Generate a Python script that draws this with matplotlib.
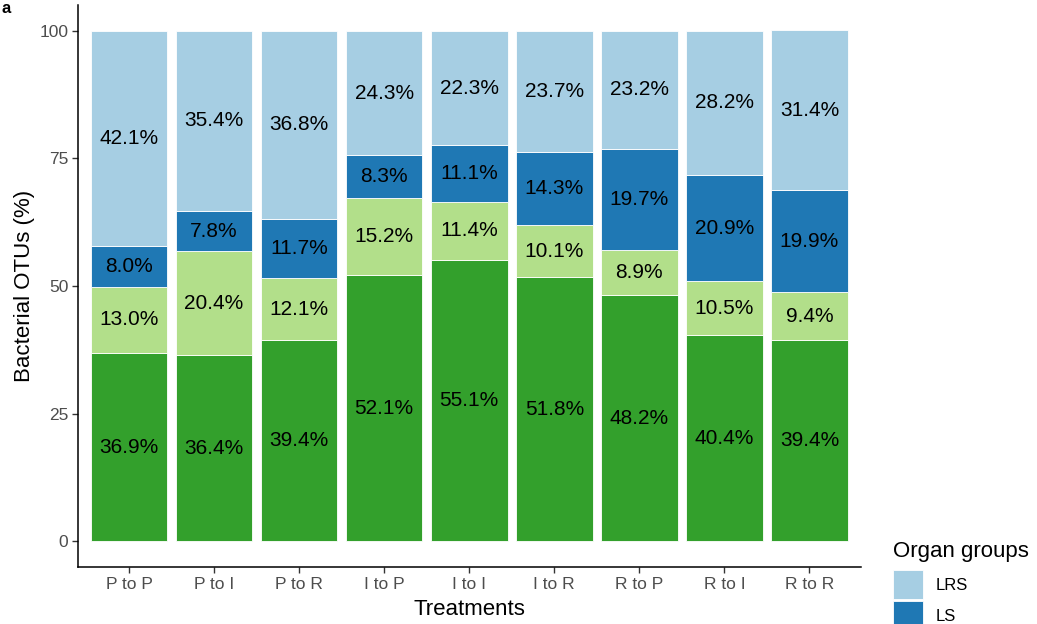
import matplotlib
matplotlib.use("Agg")
import matplotlib.pyplot as plt
import numpy as np
from matplotlib.patches import Patch

plt.rcParams['font.family'] = ['Liberation Sans', 'DejaVu Sans']

treatments = ["P to P", "P to I", "P to R", "I to P", "I to I", "I to R", "R to P", "R to I", "R to R"]
# stacked from bottom to top
group_names = ["R", "RS", "LS", "LRS"]
group_colors = ["#33A02C", "#B2DF8A", "#1F78B4", "#A6CEE3"]
dark_green = [36.9, 36.4, 39.4, 52.1, 55.1, 51.8, 48.2, 40.4, 39.4]
light_green = [13.0, 20.4, 12.1, 15.2, 11.4, 10.1, 8.9, 10.5, 9.4]
ls_vals = [8.0, 7.8, 11.7, 8.3, 11.1, 14.3, 19.7, 20.9, 19.9]
lrs_vals = [42.1, 35.4, 36.8, 24.3, 22.3, 23.7, 23.2, 28.2, 31.4]
series = [dark_green, light_green, ls_vals, lrs_vals]
yticks = [0, 25, 50, 75, 100]
legend_shown = ["LRS", "LS"]  # entries visible in the (cropped) legend

W, H = 1037, 624
fig = plt.figure(figsize=(W / 100, H / 100), dpi=100)
ax = fig.add_axes([78 / W, (H - 567) / H, (860.5 - 78) / W, (567 - 5) / H])

x = np.arange(1, len(treatments) + 1)
bottom = np.zeros(len(treatments))
for name, col, vals in zip(group_names, group_colors, series):
    vals = np.array(vals)
    ax.bar(x, vals, width=0.9, bottom=bottom, color=col, edgecolor="white",
           linewidth=0.6, label=name)
    for xi, b, v in zip(x, bottom, vals):
        ax.text(xi, b + v / 2, f"{v:.1f}%", ha="center", va="center", fontsize=15, color="black")
    bottom = bottom + vals

ax.set_xlim(0.4, len(treatments) + 0.6)
ax.set_ylim(-5, 105)
ax.set_xticks(x)
ax.set_xticklabels(treatments)
ax.set_yticks(yticks)
ax.set_yticklabels([str(t) for t in yticks])
for s in ["top", "right"]:
    ax.spines[s].set_visible(False)
for s in ["left", "bottom"]:
    ax.spines[s].set_linewidth(1.1)
    ax.spines[s].set_color("black")
ax.tick_params(axis="both", length=4, width=1.0, color="#333333", labelsize=12.5,
               labelcolor="#4D4D4D", pad=3)
ax.set_xlabel("Treatments", fontsize=16, color="black", labelpad=5)
ax.set_ylabel("Bacterial OTUs (%)", fontsize=16, color="black", labelpad=3)

color_of = dict(zip(group_names, group_colors))
leg_handles = [Patch(facecolor=color_of[n], edgecolor="white", linewidth=0.6) for n in legend_shown]
fig.text(893 / W, 1 - 557 / H, "Organ groups", fontsize=16, ha="left", va="baseline")
leg = fig.legend(leg_handles, legend_shown, loc="upper left",
                 bbox_to_anchor=(880 / W, 1 - 557 / H), frameon=False,
                 fontsize=12, handlelength=1.75, handleheight=2.3, labelspacing=0.12,
                 handletextpad=0.8, borderpad=0.3)

fig.text(1 / W, 1 - 1 / H, "a", fontsize=12, fontweight="bold", ha="left", va="top")

fig.savefig("out.png", dpi=100)
